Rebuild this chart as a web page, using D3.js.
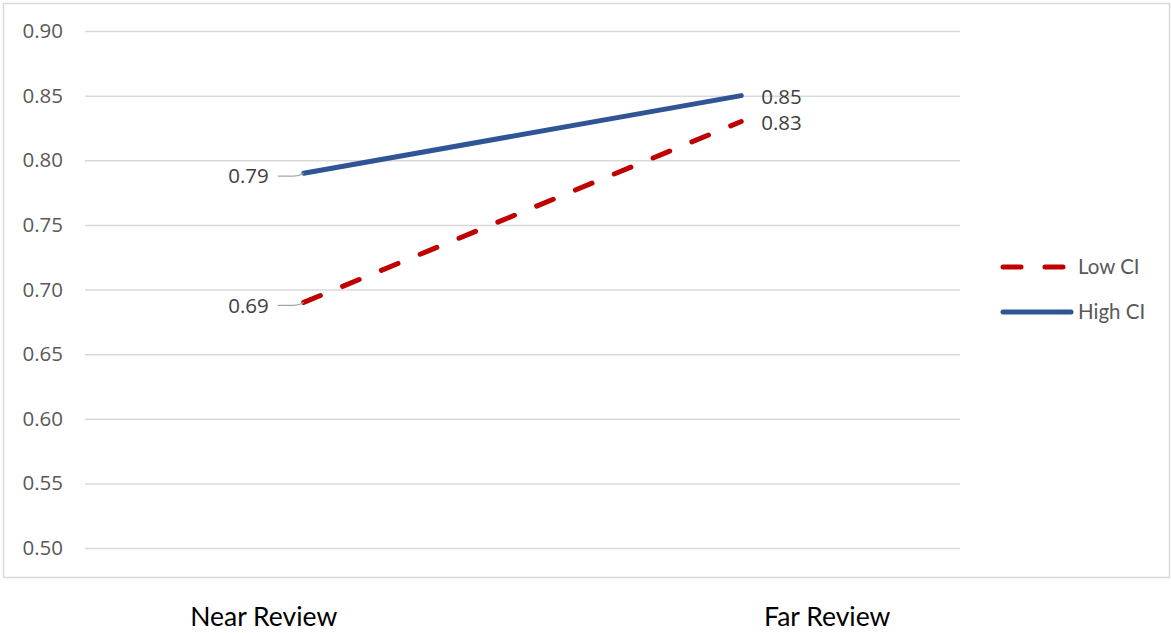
<!DOCTYPE html>
<html>
<head>
<meta charset="utf-8">
<script src="https://cdn.jsdelivr.net/npm/d3@7/dist/d3.min.js"></script>
<style>
  html, body { margin: 0; padding: 0; background: #ffffff; }
  svg { display: block; font-family: Lato, "Open Sans", sans-serif; }
</style>
</head>
<body>
<svg id="chart" width="1171" height="633"></svg>
<script>
// Review timing categories and the two confidence-interval series
const categories = ["Near Review", "Far Review"];
const lowCI = [0.69, 0.83];
const highCI = [0.79, 0.85];
const yTicks = [0.50, 0.55, 0.60, 0.65, 0.70, 0.75, 0.80, 0.85, 0.90];

const series = [
  { name: "Low CI", values: lowCI, color: "#C00000", dash: "18,24" },
  { name: "High CI", values: highCI, color: "#2F5597", dash: null }
];

const svg = d3.select("#chart");
const plot = { left: 85, right: 960, top: 31, bottom: 548 };
const numFont = "'Open Sans', sans-serif";

// Outer chart frame
svg.append("rect")
  .attr("x", 3.5).attr("y", 3.5)
  .attr("width", 1166).attr("height", 574)
  .attr("fill", "#fff").attr("stroke", "#d9d9d9").attr("stroke-width", 1.5);

const x = d3.scalePoint().domain(categories).range([plot.left, plot.right]).padding(0.5);
const y = d3.scaleLinear().domain([0.50, 0.90]).range([plot.bottom, plot.top]);

// Horizontal gridlines and value labels
const yAxis = d3.axisLeft(y)
  .tickValues(yTicks)
  .tickSize(-(plot.right - plot.left))
  .tickPadding(22)
  .tickFormat(d3.format(".2f"));

const gy = svg.append("g")
  .attr("transform", `translate(${plot.left},0)`)
  .call(yAxis);
gy.select(".domain").remove();
gy.selectAll(".tick line").attr("stroke", "#d9d9d9").attr("stroke-width", 1.5);
gy.selectAll(".tick text")
  .attr("fill", "#595959")
  .attr("font-family", null)
  .style("font-family", numFont)
  .style("font-size", "20.5px");

// Category labels below the frame
const catOffsets = { "Near Review": -40, "Far Review": 86 };
svg.append("g").selectAll("text")
  .data(categories)
  .join("text")
  .attr("x", d => x(d) + catOffsets[d])
  .attr("y", 626)
  .attr("text-anchor", "middle")
  .attr("fill", "#000")
  .style("font-size", "26.5px")
  .text(d => d);

// Series lines
const line = d3.line()
  .x((d, i) => x(categories[i]))
  .y(d => y(d));

series.forEach(s => {
  svg.append("path")
    .datum(s.values)
    .attr("d", line)
    .attr("fill", "none")
    .attr("stroke", s.color)
    .attr("stroke-width", 5)
    .attr("stroke-linecap", "round")
    .attr("stroke-dasharray", s.dash);
});

// Data labels: first point labelled on the left with a leader line, last point on the right
series.forEach(s => {
  const x0 = x(categories[0]), y0 = y(s.values[0]);
  svg.append("path")
    .attr("d", `M${x0 - 26},${y0 + 3} L${x0 - 10},${y0 + 3} Q${x0 - 5},${y0 + 3} ${x0},${y0}`)
    .attr("fill", "none")
    .attr("stroke", "#a6a6a6")
    .attr("stroke-width", 1.2);
  svg.append("text")
    .attr("x", x0 - 35)
    .attr("y", y0 + 3)
    .attr("dy", "0.35em")
    .attr("text-anchor", "end")
    .attr("fill", "#404040")
    .style("font-family", numFont)
    .style("font-size", "20.5px")
    .text(d3.format(".2f")(s.values[0]));

  const x1 = x(categories[1]), y1 = y(s.values[1]);
  svg.append("text")
    .attr("x", x1 + 20)
    .attr("y", y1 + 1)
    .attr("dy", "0.35em")
    .attr("text-anchor", "start")
    .attr("fill", "#404040")
    .style("font-family", numFont)
    .style("font-size", "20.5px")
    .text(d3.format(".2f")(s.values[1]));
});

// Legend
const legend = svg.append("g").attr("transform", "translate(1001,267)");
series.forEach((s, i) => {
  const g = legend.append("g").attr("transform", `translate(0,${i * 45})`);
  g.append("line")
    .attr("x1", 2).attr("x2", s.dash ? 72 : 70)
    .attr("y1", 0).attr("y2", 0)
    .attr("stroke", s.color)
    .attr("stroke-width", 5)
    .attr("stroke-linecap", "round")
    .attr("stroke-dasharray", s.dash);
  g.append("text")
    .attr("x", 77)
    .attr("y", 0)
    .attr("dy", "0.35em")
    .attr("fill", "#595959")
    .style("font-size", "20.5px")
    .text(s.name);
});
</script>
</body>
</html>
